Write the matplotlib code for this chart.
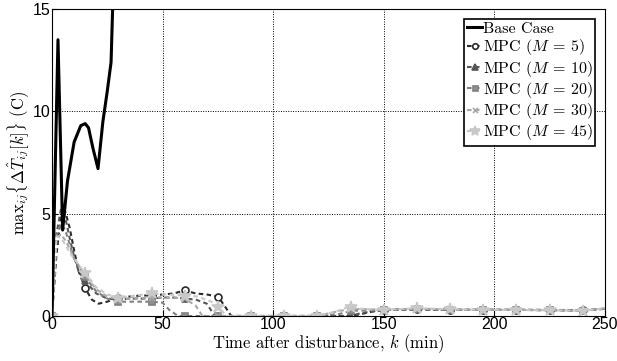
import numpy as np
import matplotlib
matplotlib.use('Agg')
import matplotlib.pyplot as plt

plt.rcParams['mathtext.fontset'] = 'cm'
plt.rcParams['font.family'] = ['Liberation Sans', 'DejaVu Sans']

# Base case (blows up after ~28 min)
k_base = [0, 2.7, 4.8, 7, 10, 13, 15, 16.5, 18.5, 20.8, 23, 25, 26.7, 27.4, 29]
v_base = [0, 13.5, 4.2, 6.6, 8.5, 9.3, 9.4, 9.2, 8.2, 7.2, 9.5, 11.0, 12.4, 15.0, 20.0]

# MPC, M = 5
k_m5 = [0, 2, 4, 6, 8, 10, 12, 15, 18, 21, 25, 30, 35, 40, 45, 50, 55, 60, 65, 70, 75, 78, 81,
        90, 105, 120, 135, 140, 145, 150, 165, 180, 195, 210, 225, 240, 250]
v_m5 = [0, 3.0, 4.8, 5.1, 4.3, 3.2, 2.2, 1.35, 0.8, 0.6, 0.7, 0.9, 0.95, 1.0, 1.0, 1.05, 1.1, 1.25,
        1.1, 1.05, 0.95, 0.5, 0, 0, 0, 0, 0, 0.1, 0.22, 0.3, 0.32, 0.3, 0.3, 0.3, 0.3, 0.28, 0.35]

# MPC, M = 10
k_m10 = [0, 2, 4, 6, 8, 10, 12, 15, 20, 25, 30, 35, 40, 45, 50, 55, 60, 65, 70, 73, 75,
         90, 105, 120, 135, 140, 150, 165, 180, 195, 210, 225, 240, 250]
v_m10 = [0, 4.0, 5.2, 4.8, 3.8, 2.9, 2.2, 1.7, 1.1, 0.85, 0.8, 0.85, 0.85, 0.85, 0.9, 0.9, 0.85,
         0.8, 0.6, 0.1, 0, 0, 0, 0, 0, 0.15, 0.3, 0.33, 0.3, 0.3, 0.3, 0.28, 0.27, 0.35]

# MPC, M = 20
k_m20 = [0, 2, 4, 6, 8, 10, 15, 20, 25, 30, 35, 40, 45, 50, 53, 57, 60, 75, 90, 105, 120,
         130, 135, 150, 165, 180, 195, 210, 225, 240, 250]
v_m20 = [0, 3.9, 4.5, 4.2, 3.5, 2.8, 1.9, 1.2, 0.85, 0.7, 0.7, 0.7, 0.7, 0.65, 0.3, 0, 0, 0, 0,
         0, 0, 0.1, 0.25, 0.3, 0.35, 0.3, 0.3, 0.3, 0.28, 0.26, 0.36]

# MPC, M = 30
k_m30 = [0, 2, 4, 6, 8, 10, 15, 20, 25, 30, 35, 45, 55, 60, 65, 68, 75, 90, 105, 120,
         128, 135, 150, 165, 180, 195, 210, 225, 240, 250]
v_m30 = [0, 3.8, 4.0, 3.7, 3.3, 2.8, 2.0, 1.3, 0.95, 0.8, 0.85, 0.9, 0.9, 0.85, 0.5, 0, 0, 0,
         0, 0, 0.2, 0.35, 0.3, 0.36, 0.32, 0.3, 0.3, 0.28, 0.26, 0.37]

# MPC, M = 45
k_m45 = [0, 2, 4, 6, 8, 10, 15, 20, 25, 30, 38, 45, 52, 60, 66, 72, 75, 79, 90, 105, 120,
         128, 133, 135, 140, 150, 165, 180, 195, 210, 225, 240, 250]
v_m45 = [0, 3.9, 3.8, 3.5, 3.1, 2.8, 2.1, 1.4, 1.05, 0.9, 1.0, 1.1, 1.05, 1.0, 0.95, 0.7, 0.45,
         0, 0, 0, 0, 0.2, 0.4, 0.42, 0.35, 0.3, 0.38, 0.33, 0.3, 0.3, 0.28, 0.26, 0.38]

labels = ['Base Case', r'MPC ($M$ = 5)', r'MPC ($M$ = 10)', r'MPC ($M$ = 20)',
          r'MPC ($M$ = 30)', r'MPC ($M$ = 45)']


def every15(k):
    return [i for i, kk in enumerate(k) if kk % 15 == 0]


fig = plt.figure(figsize=(6.17, 3.61), dpi=100)
ax = fig.add_axes([0.0843, 0.1247, 0.8962, 0.8503])

ax.plot(k_base, v_base, color='black', lw=2.2, label=labels[0], zorder=6)

dash = (0, (2.2, 1.6))
series = [
    (k_m5, v_m5, '#2a2a2a', 'o', 'white', 5, labels[1]),
    (k_m10, v_m10, '#555555', '^', '#555555', 5, labels[2]),
    (k_m20, v_m20, '#808080', 's', '#909090', 4.5, labels[3]),
    (k_m30, v_m30, '#a8a8a8', 'x', '#a8a8a8', 4.5, labels[4]),
    (k_m45, v_m45, '#c8c8c8', '*', '#c8c8c8', 9, labels[5]),
]
for k, v, c, m, fc, ms, lab in series:
    ax.plot(k, v, color=c, lw=1.5, linestyle=dash, marker=m, markerfacecolor=fc,
            markeredgecolor=c, markeredgewidth=1.2, markersize=ms,
            markevery=every15(k), label=lab)

ax.set_xlim(0, 250)
ax.set_ylim(0, 15)
ax.set_xticks([0, 50, 100, 150, 200, 250])
ax.set_yticks([0, 5, 10, 15])
ax.tick_params(direction='in', labelsize=11.5, length=4, pad=1)
ax.grid(True, color='black', linestyle=(0, (1, 1.5)), linewidth=0.7)
for sp in ax.spines.values():
    sp.set_linewidth(0.8)

ax.set_xlabel('Time after disturbance, $k$ (min)', family='cmr10', fontsize=12, labelpad=0)
ax.set_ylabel(r'$\mathrm{max}_{ij}\{\Delta\hat{T}_{ij}[k]\}$ (C)', family='cmr10', fontsize=12,
              labelpad=1)

leg = ax.legend(loc='upper right', prop={'family': 'cmr10', 'size': 11.5}, fancybox=False,
                framealpha=1, edgecolor='black', handlelength=0.9, handletextpad=0.05,
                labelspacing=0.08, borderpad=0.2, borderaxespad=0.6, markerscale=0.8)
leg.get_frame().set_linewidth(1.2)

fig.savefig('out.png', dpi=100)
